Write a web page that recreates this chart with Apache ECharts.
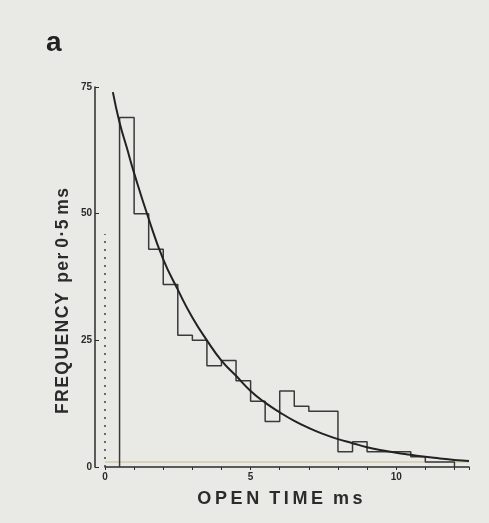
<!DOCTYPE html>
<html>
<head>
<meta charset="utf-8">
<script src="https://cdn.jsdelivr.net/npm/echarts@6/dist/echarts.min.js"></script>
<style>
html,body{margin:0;padding:0;background:#e9e9e6;}
#c{width:489px;height:523px;}
</style>
</head>
<body>
<div id="c"></div>
<script>
// Histogram: bin left edges (ms), bin width 0.5 ms, counts per bin
const binLeft = [0.5,1.0,1.5,2.0,2.5,3.0,3.5,4.0,4.5,5.0,5.5,6.0,6.5,7.0,7.5,8.0,8.5,9.0,9.5,10.0,10.5,11.0,11.5];
const binWidth = 0.5;
const counts = [69,50,43,36,26,25,20,21,17,13,9,15,12,11,11,3,5,3,3,3,2,1,1];
// Fitted exponential curve
const curveT = [0.27,0.5,0.75,1,1.5,2,2.5,3,3.5,4,4.5,5,5.5,6,6.5,7,7.5,8,8.5,9,9.5,10,10.5,11,11.5,12,12.5];
const curveV = [74,68,63,58,49,41,35,29.5,25,21,18,15,12.7,10.8,9.1,7.7,6.5,5.5,4.7,3.9,3.3,2.8,2.4,2.0,1.7,1.4,1.2];
// Dotted marker at t = 0
const dottedT = 0;
const dottedTop = 46;
// Axis ticks
const xLabels = [0,5,10];
const yTicks = [0,25,50,75];

const steps = [];
for (let i = 0; i < binLeft.length; i++) {
  const a = binLeft[i], b = binLeft[i] + binWidth;
  if (i === 0) steps.push([a, 0]);
  steps.push([a, counts[i]]);
  steps.push([b, counts[i]]);
  if (i === binLeft.length - 1) steps.push([b, 0]);
}
const curve = curveT.map((t, i) => [t, curveV[i]]);

const ink = '#2b2b2b';
const hs = '\u200A', ts = '\u2009';
const spaced = (s, g) => s.split('').join(g);
const chart = echarts.init(document.getElementById('c'));
chart.setOption({
  backgroundColor: '#e9e9e6',
  animation: false,
  grid: {left: 105, right: 20, top: 87, bottom: 56},
  xAxis: {
    type: 'value', min: 0, max: 12.5, interval: 1,
    axisLine: {onZero: false, lineStyle: {color: ink, width: 1.5}},
    axisTick: {show: true, length: 3, lineStyle: {color: ink}},
    splitLine: {show: false},
    axisLabel: {
      color: ink, fontSize: 10, fontWeight: 'bold', margin: 5,
      fontFamily: 'Liberation Sans',
      formatter: v => xLabels.indexOf(v) >= 0 ? String(v) : ''
    }
  },
  yAxis: {
    type: 'value', min: 0, max: 75, interval: 25, offset: 10,
    axisLine: {show: true, onZero: false, lineStyle: {color: ink, width: 1.5}},
    axisTick: {show: true, inside: true, length: 4, lineStyle: {color: ink}},
    splitLine: {show: false},
    axisLabel: {
      color: ink, fontSize: 10, fontWeight: 'bold', margin: 3,
      fontFamily: 'Liberation Sans',
      formatter: v => yTicks.indexOf(v) >= 0 ? String(v) : ''
    }
  },
  series: [
    {
      type: 'line', data: steps, symbol: 'none',
      lineStyle: {color: '#3a3a3a', width: 1.5}, z: 3,
      markLine: {
        silent: true, symbol: ['none', 'none'], label: {show: false},
        lineStyle: {color: '#4a4a4a', width: 1.6, type: [2, 6]},
        data: [[{coord: [dottedT, 0]}, {coord: [dottedT, dottedTop]}]]
      }
    },
    {
      type: 'line', data: curve, symbol: 'none', smooth: true,
      lineStyle: {color: '#222', width: 2}, z: 4
    },
    {
      type: 'line', data: [[0, 1], [12.5, 1]], symbol: 'none', clip: false, silent: true,
      lineStyle: {color: '#d3cbad', width: 1.5}, z: 1
    }
  ],
  graphic: [
    {type: 'text', x: 46, y: 43,
     style: {text: 'a', font: 'bold 28px "Liberation Sans"', fill: '#222',
             align: 'left', verticalAlign: 'middle'}},
    {type: 'text', x: 63, y: 301, rotation: Math.PI / 2,
     style: {text: spaced('FREQUENCY', hs) + '  ' + spaced('per', hs) + ' ' + spaced('0·5', hs) + ' ' + spaced('ms', hs),
             font: 'bold 17.5px "Liberation Sans"', fill: ink,
             align: 'center', verticalAlign: 'middle'}},
    {type: 'text', x: 280, y: 499,
     style: {text: spaced('OPEN', ts) + '  ' + spaced('TIME', ts) + '  ' + spaced('ms', ts),
             font: 'bold 18px "Liberation Sans"', fill: ink,
             align: 'center', verticalAlign: 'middle'}}
  ]
});
</script>
</body>
</html>
